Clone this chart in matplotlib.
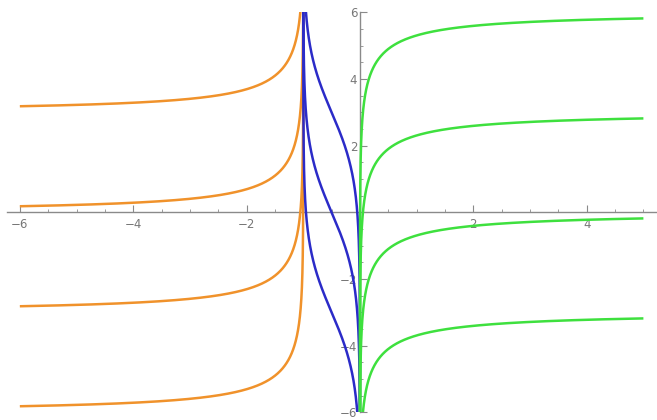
import matplotlib.pyplot as plt
import matplotlib.patches as mpatches
import numpy as np

# Solution family y = ln|x / (x + 1)| + C on the three real intervals
consts_left = [3, 0, -3, -6]     # x < -1
consts_mid = [3, 0, -3]          # -1 < x < 0
consts_right = [6, 3, 0, -3]     # x > 0

x_left = (-6, -1)
x_mid = (-1, 0)
x_right = (0, 5)

colors = {'left': '#f0922b', 'mid': '#2b2bc8', 'right': '#3ee03e'}

xticks = [-6, -4, -2, 2, 4]
yticks = [-6, -4, -2, 2, 4, 6]


def branch(a, b, n=4000):
    # cluster samples near the singular ends so curves reach the clip edge
    s = np.geomspace(1e-9, 1, n)
    left = a + (b - a) * 0.5 * s
    right = b - (b - a) * 0.5 * s
    return np.unique(np.concatenate([left, right]))


def f(x, c):
    return np.log(np.abs(x / (x + 1))) + c


fig = plt.figure(figsize=(6.57, 4.2), dpi=100)
ax = fig.add_axes([0, 0, 1, 1])
ax.set_xlim(-6.35, 5.24)
ax.set_ylim(-6.23, 6.37)

clip = mpatches.Rectangle((-7, -6), 13, 12, transform=ax.transData,
                          fill=False, visible=False)
ax.add_patch(clip)

for key, (a, b), consts in [('left', x_left, consts_left),
                            ('mid', x_mid, consts_mid),
                            ('right', x_right, consts_right)]:
    xs = branch(a, b)
    for c in consts:
        ln, = ax.plot(xs, f(xs, c), color=colors[key], lw=1.8,
                      solid_capstyle='butt')
        ln.set_clip_path(clip)

# axes through the origin, Mathematica style
for side in ('top', 'right'):
    ax.spines[side].set_visible(False)
ax.spines['left'].set_position(('data', 0))
ax.spines['bottom'].set_position(('data', 0))
ax.spines['left'].set_bounds(-6, 6)
ax.spines['bottom'].set_bounds(-6.22, 5.22)
for side in ('left', 'bottom'):
    ax.spines[side].set_color('#8a8a8a')
    ax.spines[side].set_linewidth(1.0)
    ax.spines[side].set_zorder(0)

ax.set_xticks(xticks)
ax.set_yticks(yticks)
ax.set_xticks(np.arange(-6, 5.01, 0.5), minor=True)
ax.set_yticks(np.arange(-6, 6.01, 0.5), minor=True)
ax.set_xticklabels([str(t) if t >= 0 else '\u2212' + str(-t) for t in xticks])
ax.set_yticklabels([str(t) if t >= 0 else '\u2212' + str(-t) for t in yticks])
ax.tick_params(which='both', direction='in', color='#8a8a8a',
               labelcolor='#777777', labelsize=8.5)
ax.tick_params(which='major', length=5, width=0.8)
ax.tick_params(which='minor', length=2.5, width=0.6)
ax.tick_params(axis='x', pad=4)
ax.tick_params(axis='y', pad=2)
ax.patch.set_visible(False)

fig.savefig('out.png', dpi=100)
